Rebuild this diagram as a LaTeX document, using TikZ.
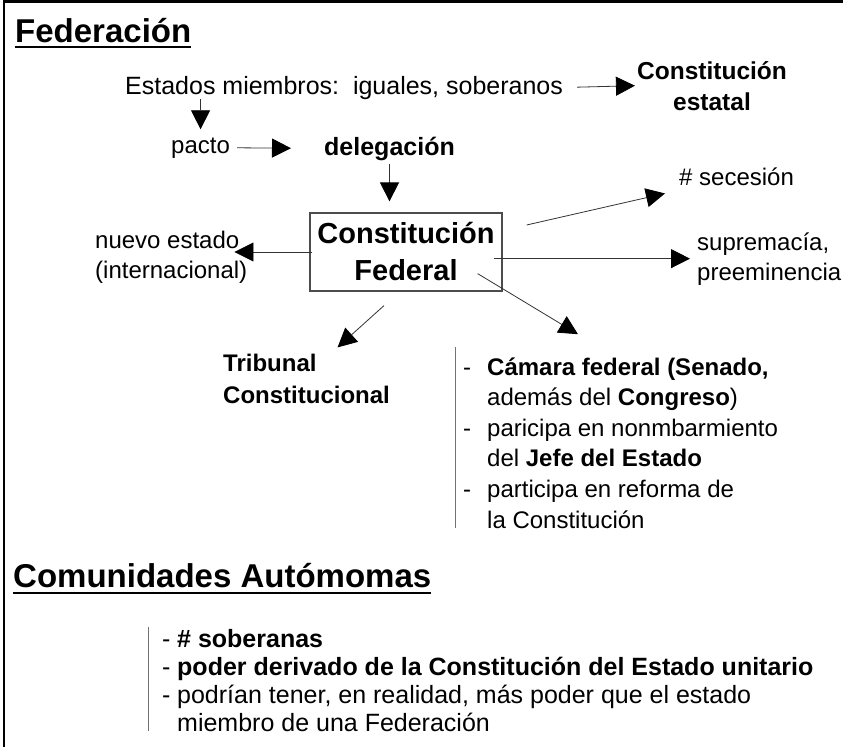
\documentclass[tikz,border=0pt]{standalone}
\usepackage{fontspec}
\setmainfont{Liberation Sans}
\usetikzlibrary{arrows.meta}
\newcommand{\dashline}[2][24pt]{\makebox[#1][l]{-}#2}
\newcommand{\indline}[2][24pt]{\hspace*{#1}#2}

\begin{document}
\begin{tikzpicture}[x=1pt,y=-1pt,
		every node/.style={inner sep=0pt},
		txt/.style={font=\fontsize{24}{#1}\selectfont},
		txt/.default=30,
		btxt/.style={font=\fontsize{24}{#1}\selectfont\bfseries},
		btxt/.default=30,
		ttl/.style={font=\fontsize{33}{40}\selectfont\bfseries},
		arr/.style={draw=black!80, line width=0.8pt, -{Triangle[length=19pt,width=19pt,color=black]}},
		bar/.style={draw=black!55, line width=1pt}]
	\useasboundingbox (0,0) rectangle (843,747);
	\draw [line width=2.8pt] (4,747) -- (4,1.7) -- (843,1.7);
	\node [ttl, anchor=base west] (fed) at (15,42) {Federación};
	\draw [line width=2.4pt] ([yshift=-5pt]fed.base west) -- ([yshift=-5pt]fed.base east);
	\node [txt, font=\fontsize{25}{30}\selectfont, anchor=base west] (est) at (125,94) {Estados miembros:\ \ iguales, soberanos};
	\node [btxt=31, font=\fontsize{24.5}{31}\selectfont\bfseries, anchor=base, align=center] (cest) at (712,110) {Constitución\\estatal};
	\node [txt, anchor=base west] (pac) at (171,153) {pacto};
	\node [btxt, font=\fontsize{25}{30}\selectfont\bfseries, anchor=base west] (del) at (324,155) {delegación};
	\node [draw=black!70, line width=1.2pt, minimum width=192pt, minimum height=78pt,
		font=\fontsize{29}{37}\selectfont\bfseries, align=center] (cf) at (406,252) {Constitución\\Federal};
	\node [txt, anchor=base west, align=left] (nue) at (95,278) {nuevo estado\\(internacional)};
	\node [txt, anchor=base west] (sec) at (679,185) {\# secesión};
	\node [txt, anchor=base west, align=left] (sup) at (697,280) {supremacía,\\preeminencia};
	\node [btxt=32, anchor=base west, align=left] (tri) at (223,403) {Tribunal\\Constitucional};
	\node [txt=30.6, anchor=base west, align=left] (cam) at (463,528) {\dashline{\textbf{Cámara federal (Senado,}}\\
		\indline{además del \textbf{Congreso})}\\
		\dashline{paricipa en nonmbarmiento}\\
		\indline{del \textbf{Jefe del Estado}}\\
		\dashline{participa en reforma de}\\
		\indline{la Constitución}};
	\draw [bar] ([xshift=-8pt,yshift=10pt]cam.north west) -- ([xshift=-8pt]cam.south west);
	\node [ttl, anchor=base west] (com) at (13,587) {Comunidades Autómomas};
	\draw [line width=2.4pt] ([yshift=-6pt]com.base west) -- ([yshift=-6pt]com.base east);
	\node [font=\fontsize{25}{27.7}\selectfont, anchor=base west, align=left] (lst) at (162,731) {\dashline[15pt]{\textbf{\# soberanas}}\\
		\dashline[15pt]{\textbf{poder derivado de la Constitución del Estado unitario}}\\
		\dashline[15pt]{podrían tener, en realidad, más poder que el estado}\\
		\indline[15pt]{miembro de una Federación}};
	\draw [bar] ([xshift=-14pt,yshift=3pt]lst.north west) -- ([xshift=-14pt]lst.south west);
	\draw [arr, shorten <=14pt, shorten >=2pt] (est.east) -- (cest.west);
	\draw [arr, shorten >=8pt] (est.south -| pac.north) -- (pac.north);
	\draw [arr, shorten <=7pt, shorten >=33pt] (pac.east) -- (del.west);
	\draw [arr, shorten <=3pt, shorten >=11pt] (del.south) -- (del.south |- cf.north);
	\draw [arr, shorten <=-3pt, shorten >=-13pt] (cf.west) -- (cf.west -| nue.east);
	\draw [arr, shorten <=-9pt, shorten >=7pt] (cf.east |- sup.west) -- (sup.west);
	\draw [arr] ([xshift=24pt,yshift=27pt]cf.east) -- ([xshift=-14pt,yshift=-8pt]sec.south west);
	\draw [arr] ([xshift=-22pt,yshift=-14pt]cf.south) -- ([xshift=31pt,yshift=6pt]tri.north);
	\draw [arr] ([xshift=-25pt,yshift=18pt]cf.south east) -- ([xshift=115pt,yshift=23pt]cam.north west);
\end{tikzpicture}
\end{document}
